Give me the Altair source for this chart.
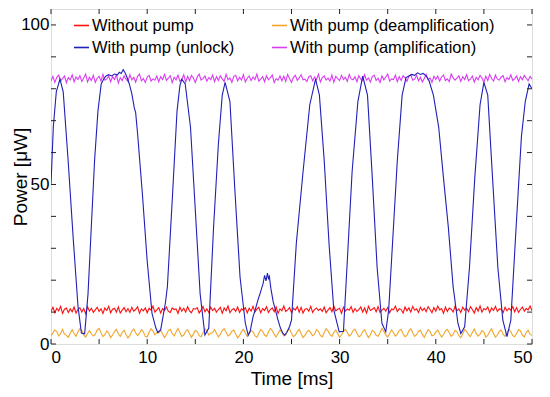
import altair as alt
import pandas as pd

# ---------------- data ----------------
# legend entries are placed column by column: col 1 = red, blue; col 2 = orange, magenta
series_names = ["Without pump", "With pump (unlock)",
                "With pump (deamplification)", "With pump (amplification)"]
series_colors = ["#ff1010", "#2020b8", "#f2a52a", "#d83ef0"]

# uniformly sampled traces: sampling step in ms
red_step = 0.2
red_power = [
    10.2, 11.5, 9.8, 11.2, 10.4, 11.8, 9.6, 10.9, 11.3, 9.9,
    11.0, 10.1, 11.6, 9.7, 10.8, 11.4, 10.0, 11.1, 9.5, 11.7,
    10.3, 11.2, 9.9, 10.7, 11.5, 10.2, 11.0, 9.6, 11.3, 10.5,
    11.8, 9.8, 10.9, 11.2, 10.0, 11.6, 9.7, 10.6, 11.4, 10.1,
    11.1, 9.9, 11.5, 10.3, 10.8, 11.7, 9.6, 11.0, 10.4, 11.3,
    9.8, 11.2, 10.6, 11.9, 10.0, 10.7, 11.4, 9.7, 11.1, 10.5,
    11.6, 10.2, 9.9, 11.3, 10.8, 11.0, 9.6, 11.5, 10.3, 11.2,
    10.0, 11.7, 10.4, 9.8, 11.1, 10.9, 11.4, 9.7, 10.6, 11.8,
    10.1, 11.0, 9.9, 11.6, 10.5, 11.2, 10.0, 10.8, 11.5, 9.6,
    11.3, 10.4, 11.9, 9.8, 10.7, 11.1, 10.2, 11.6, 9.9, 11.0,
    10.6, 11.4, 9.7, 11.2, 10.3, 11.8, 10.0, 10.9, 11.5, 9.8,
    11.1, 10.5, 11.7, 9.9, 10.8, 11.3, 10.1, 11.6, 9.6, 11.0,
    10.4, 11.9, 10.2, 10.7, 11.4, 9.8, 11.2, 10.6, 11.7, 10.0,
    11.5, 9.7, 10.9, 11.1, 10.3, 11.8, 9.9, 10.8, 11.3, 10.5,
    11.0, 10.2, 11.6, 9.8, 10.7, 11.4, 10.1, 11.9, 10.4, 10.9,
    11.2, 9.6, 11.5, 10.3, 11.0, 10.6, 11.7, 9.9, 11.1, 10.2,
    10.8, 11.6, 10.0, 11.3, 9.7, 11.8, 10.5, 10.9, 11.4, 10.1,
    11.7, 9.9, 10.6, 11.2, 10.3, 11.5, 9.8, 11.0, 10.7, 11.9,
    10.2, 11.1, 10.8, 9.7, 11.6, 10.4, 11.3, 10.0, 11.8, 10.6,
    11.0, 9.9, 11.5, 10.5, 11.2, 10.1, 11.7, 10.8, 9.8, 11.4,
    10.3, 11.9, 10.7, 11.1, 9.6, 11.6, 10.2, 11.3, 10.9, 10.0,
    11.8, 10.4, 11.0, 9.9, 11.5, 10.6, 11.2, 10.1, 11.7, 10.8,
    9.7, 11.4, 10.3, 11.9, 10.0, 11.1, 10.7, 11.6, 9.9, 11.3,
    10.5, 11.8, 10.2, 11.0, 10.9, 9.8, 11.5, 10.4, 11.2, 10.6,
    11.7, 10.1, 11.4, 9.9, 10.8, 11.6, 10.3, 11.1, 10.7, 11.9,
    10.4,
]

magenta_step = 0.2
magenta_power = [
    82.4, 83.9, 82.0, 83.6, 84.3, 82.5, 83.2, 84.0, 81.9, 83.5,
    82.8, 84.4, 82.2, 83.7, 82.9, 84.1, 82.3, 83.4, 84.6, 82.1,
    83.6, 82.6, 84.2, 82.0, 83.3, 83.9, 82.4, 84.5, 82.7, 83.1,
    84.0, 82.2, 83.8, 82.9, 84.3, 81.8, 83.5, 82.6, 84.1, 83.0,
    82.3, 84.4, 82.8, 83.6, 82.1, 83.9, 84.6, 82.5, 83.2, 82.0,
    83.7, 84.2, 82.4, 83.1, 82.7, 84.0, 82.2, 83.8, 82.9, 84.5,
    82.6, 83.3, 84.1, 81.9, 83.6, 82.8, 84.3, 82.3, 83.0, 84.4,
    82.1, 83.9, 82.5, 84.2, 83.4, 82.0, 83.7, 84.6, 82.7, 83.2,
    84.0, 82.4, 83.5, 82.9, 84.3, 82.2, 83.8, 82.6, 84.1, 83.1,
    82.3, 84.5, 82.8, 83.4, 82.0, 83.9, 84.2, 82.5, 83.6, 82.7,
    84.4, 82.1, 83.3, 84.0, 82.6, 83.7, 82.9, 84.6, 82.4, 83.0,
    83.8, 82.2, 84.1, 82.8, 83.5, 84.3, 81.9, 83.2, 82.7, 84.0,
    82.5, 83.9, 82.3, 84.5, 83.1, 82.0, 83.6, 84.2, 82.6, 83.4,
    84.4, 82.8, 83.0, 82.2, 83.8, 84.1, 82.5, 83.7, 82.9, 84.6,
    82.1, 83.5, 84.0, 82.7, 83.3, 82.4, 84.3, 82.0, 83.9, 83.2,
    82.6, 84.2, 82.9, 83.6, 82.3, 84.5, 83.1, 82.8, 83.8, 82.2,
    84.1, 83.0, 82.5, 84.4, 82.7, 83.4, 82.1, 83.9, 84.2, 82.6,
    83.3, 82.0, 84.0, 82.8, 83.7, 84.6, 82.4, 83.1, 82.9, 84.3,
    82.2, 83.8, 82.6, 84.1, 83.5, 82.3, 83.9, 84.4, 82.7, 83.0,
    84.2, 82.5, 83.6, 82.1, 83.2, 84.5, 82.8, 83.4, 82.0, 83.9,
    82.9, 84.0, 82.4, 83.7, 84.3, 82.6, 83.1, 82.2, 84.6, 83.5,
    82.7, 83.3, 84.1, 82.3, 83.8, 82.9, 84.4, 82.5, 83.0, 84.0,
    82.1, 83.6, 82.8, 84.2, 83.4, 82.0, 83.9, 82.6, 84.5, 83.2,
    82.4, 84.3, 83.0, 82.7, 83.7, 84.1, 82.2, 83.5, 82.9, 84.4,
    82.6, 83.1, 84.0, 82.3, 83.8, 82.8, 84.2, 83.3, 82.5, 83.9,
    83.0,
]

orange_step = 0.2
orange_power = [
    2.6, 3.5, 4.4, 3.9, 2.5, 3.3, 4.6, 3.1, 2.7, 2.1,
    3.4, 4.5, 3.3, 2.4, 3.8, 4.8, 4.3, 2.8, 2.2, 3.3,
    4.2, 3.2, 2.5, 3.0, 4.4, 4.9, 3.5, 2.3, 2.9, 4.1,
    3.4, 2.0, 2.8, 3.9, 4.6, 3.2, 2.4, 3.6, 4.3, 3.0,
    1.9, 2.7, 4.0, 4.7, 3.5, 2.6, 3.3, 4.5, 3.8, 2.4,
    2.2, 3.7, 4.8, 4.1, 2.9, 3.6, 3.4, 4.4, 3.1, 2.0,
    3.0, 4.2, 4.6, 3.3, 2.5, 3.8, 4.9, 3.6, 2.4, 2.8,
    4.0, 4.5, 3.2, 2.1, 3.1, 4.3, 3.9, 2.6, 2.3, 3.5,
    4.7, 4.1, 2.8, 3.4, 3.6, 4.5, 3.4, 2.2, 3.0, 4.2,
    4.8, 3.7, 2.5, 2.9, 4.0, 4.4, 3.1, 1.9, 2.7, 3.9,
    4.6, 3.5, 2.3, 3.2, 4.3, 3.8, 2.6, 2.1, 3.4, 4.5,
    4.0, 2.8, 2.4, 3.7, 4.9, 4.2, 3.0, 2.2, 3.3, 4.4,
    3.6, 2.5, 2.9, 4.1, 4.7, 3.4, 2.3, 2.8, 3.9, 4.6,
    3.2, 2.0, 2.7, 3.8, 4.3, 3.5, 2.6, 3.1, 4.5, 4.0,
    2.7, 2.2, 3.5, 4.8, 4.1, 2.9, 2.4, 3.6, 4.4, 3.3,
    2.1, 2.8, 4.0, 4.6, 3.7, 2.5, 3.0, 4.2, 4.7, 3.4,
    2.3, 2.6, 3.9, 4.5, 3.1, 2.0, 2.9, 4.3, 3.8, 2.7,
    2.4, 3.5, 4.9, 4.0, 2.8, 2.2, 3.3, 4.4, 3.6, 2.5,
    3.1, 4.2, 4.6, 3.2, 2.3, 2.7, 4.1, 4.8, 3.5, 2.4,
    2.9, 4.0, 4.3, 3.0, 2.1, 3.4, 4.5, 3.9, 2.6, 2.8,
    3.7, 4.4, 3.2, 2.2, 2.9, 4.1, 4.6, 3.5, 2.4, 3.0,
    4.3, 3.8, 2.6, 2.0, 3.2, 4.5, 4.0, 2.9, 2.3, 3.6,
    4.7, 3.4, 2.5, 3.1, 4.2, 3.7, 2.2, 2.7, 3.9, 4.8,
    3.3, 2.1, 2.8, 4.0, 4.4, 3.0, 2.4, 3.5, 4.6, 3.8,
    2.6, 2.3, 3.4, 4.5, 4.1, 2.8, 2.2, 3.6, 4.3, 3.1,
    2.7,
]

# unlocked trace: (time ms, power uW) read point by point
blue_time = [
    0.0, 0.24, 0.55, 0.93, 1.27, 1.78, 2.3, 2.81, 3.16, 3.5,
    3.85, 4.19, 4.53, 4.88, 5.22, 5.5, 5.73, 6.0, 6.3, 6.6,
    6.9, 7.1, 7.3, 7.5, 7.7, 7.9, 8.14, 8.4, 8.66, 8.8,
    9.0, 9.5, 10.0, 10.5, 10.9, 11.1, 11.4, 11.9, 12.1, 12.6,
    13.1, 13.4, 13.6, 13.95, 14.5, 15.0, 15.5, 16.0, 16.4, 16.9,
    17.4, 17.8, 18.1, 18.6, 19.1, 19.65, 20.2, 20.5, 20.7, 21.0,
    21.3, 21.5, 21.7, 21.9, 22.05, 22.2, 22.35, 22.5, 22.6, 22.7,
    22.85, 23.1, 23.3, 23.6, 23.85, 24.1, 24.3, 24.5, 24.8, 25.0,
    25.5, 26.2, 26.9, 27.5, 27.9, 28.4, 28.9, 29.4, 29.96, 30.4,
    30.8, 31.3, 31.9, 32.4, 32.9, 33.4, 33.9, 34.4, 34.8, 35.1,
    35.5, 36.0, 36.5, 36.9, 37.2, 37.5, 37.8, 38.1, 38.4, 38.7,
    39.0, 39.3, 39.75, 40.3, 40.8, 41.3, 41.8, 42.3, 42.6, 43.0,
    43.5, 44.05, 44.6, 45.0, 45.4, 45.9, 46.45, 46.97, 47.4, 47.8,
    48.35, 48.9, 49.3, 49.7, 50.0,
]
blue_power = [
    50, 68, 79, 83, 79, 57.5, 33.5, 11.7, 3.4, 3.2,
    15.8, 36.7, 57.5, 73, 81.5, 83.2, 84, 84.4, 84.0, 84.6,
    84.3, 85.2, 84.8, 86, 85, 83.6, 81.5, 78.5, 74, 72.5,
    66, 47, 26, 9.6, 5, 3.6, 4.4, 13, 18, 45,
    73, 81, 83, 81.5, 68, 42, 15.8, 2.8, 5, 36.7,
    62.7, 78, 82, 76, 49, 21, 6.5, 2.8, 4, 8.5,
    11.5, 13.7, 15.5, 17.5, 19, 21.5, 19.8, 22.2, 20.5, 21.2,
    17.5, 13.2, 11, 7.5, 5, 3.4, 2.8, 3.6, 5.5, 7.5,
    31.5, 54, 75, 83, 78, 57.5, 31.5, 10.6, 3.8, 4,
    26, 54, 76, 84, 78, 52, 24, 6.5, 3.8, 10.6,
    31.5, 57.5, 78, 83.5, 84, 84.5, 84.2, 85, 84.5, 84.8,
    84, 82.5, 78, 68, 52, 36.7, 18, 6.5, 3.3, 5.4,
    24, 52, 75, 82, 78, 52, 24, 7.5, 2.3, 7.5,
    36.7, 65, 76, 81.5, 80,
]

x_tick_values = [0, 5, 10, 15, 20, 25, 30, 35, 40, 45, 50]
x_label_values = [0, 10, 20, 30, 40, 50]
y_tick_values = [0, 10, 20, 30, 40, 50, 60, 70, 80, 90, 100]
y_label_values = [0, 50, 100]

# ---------------- build tables ----------------
def sampled(name, step, values):
    return pd.DataFrame({"series": name,
                         "t": [round(i * step, 4) for i in range(len(values))],
                         "p": values})

df = pd.concat([
    sampled("Without pump", red_step, red_power),
    sampled("With pump (deamplification)", orange_step, orange_power),
    pd.DataFrame({"series": "With pump (unlock)", "t": blue_time, "p": blue_power}),
    sampled("With pump (amplification)", magenta_step, magenta_power),
], ignore_index=True)

W, H = 481, 335
FONT = "Liberation Sans"

xscale = alt.Scale(domain=[0, 50], nice=False)
yscale = alt.Scale(domain=[0, 105], nice=False)
cscale = alt.Scale(domain=series_names, range=series_colors)

legend = alt.Legend(
    title=None, orient="none", legendX=22, legendY=8, columns=2,
    symbolType="stroke", symbolSize=225, symbolStrokeWidth=1.6,
    labelFont=FONT, labelFontSize=16.5, labelColor="black",
    labelOffset=2, rowPadding=5, columnPadding=33, labelLimit=400,
)

xaxis = alt.Axis(values=x_label_values, title="Time [ms]", ticks=False, tickSize=0,
                 domain=False, grid=False, labelFont=FONT, labelFontSize=17,
                 labelColor="black", labelPadding=5, titleFont=FONT,
                 titleFontSize=19, titleFontWeight="normal", titleColor="black",
                 titlePadding=4)
yaxis = alt.Axis(values=y_label_values, title="Power [μW]", ticks=False, tickSize=0,
                 domain=False, grid=False, labelFont=FONT, labelFontSize=17,
                 labelColor="black", labelPadding=2, titleFont=FONT,
                 titleFontSize=19, titleFontWeight="normal", titleColor="black",
                 titleX=-25, titleY=H / 2, titleAlign="center",
                 titleBaseline="alphabetic", titleAngle=270)

base = alt.Chart(df)

def trace(name, width):
    return base.transform_filter(alt.datum.series == name).mark_line(
        strokeWidth=width, interpolate="linear", clip=True
    ).encode(
        x=alt.X("t:Q", scale=xscale, axis=xaxis),
        y=alt.Y("p:Q", scale=yscale, axis=yaxis),
        color=alt.Color("series:N", scale=cscale, legend=legend),
        order=alt.Order("t:Q"),
    )

lines = [
    trace("Without pump", 1.1),
    trace("With pump (deamplification)", 1.1),
    trace("With pump (amplification)", 1.1),
    trace("With pump (unlock)", 1.1),
]

yt = pd.DataFrame({"v": y_tick_values})
xt = pd.DataFrame({"v": x_tick_values})
tick_color = "#222222"
ticks = [
    alt.Chart(yt).mark_rule(color=tick_color, strokeWidth=1).encode(
        y=alt.Y("v:Q", scale=yscale, axis=yaxis), x=alt.value(0), x2=alt.value(5)),
    alt.Chart(yt).mark_rule(color=tick_color, strokeWidth=1).encode(
        y=alt.Y("v:Q", scale=yscale, axis=yaxis), x=alt.value(W - 5), x2=alt.value(W)),
    alt.Chart(xt).mark_rule(color=tick_color, strokeWidth=1).encode(
        x=alt.X("v:Q", scale=xscale, axis=xaxis), y=alt.value(H - 5), y2=alt.value(H)),
    alt.Chart(xt).mark_rule(color=tick_color, strokeWidth=1).encode(
        x=alt.X("v:Q", scale=xscale, axis=xaxis), y=alt.value(0), y2=alt.value(5)),
]

chart = alt.layer(*lines, *ticks).properties(
    width=W, height=H,
    autosize=alt.AutoSizeParams(type="none"),
    padding={"left": 43, "top": 1, "right": 10, "bottom": 45},
).configure_view(stroke="#222222", strokeWidth=1).configure(background="white")

chart.save("out.html", embed_options={"renderer": "svg", "actions": False})
